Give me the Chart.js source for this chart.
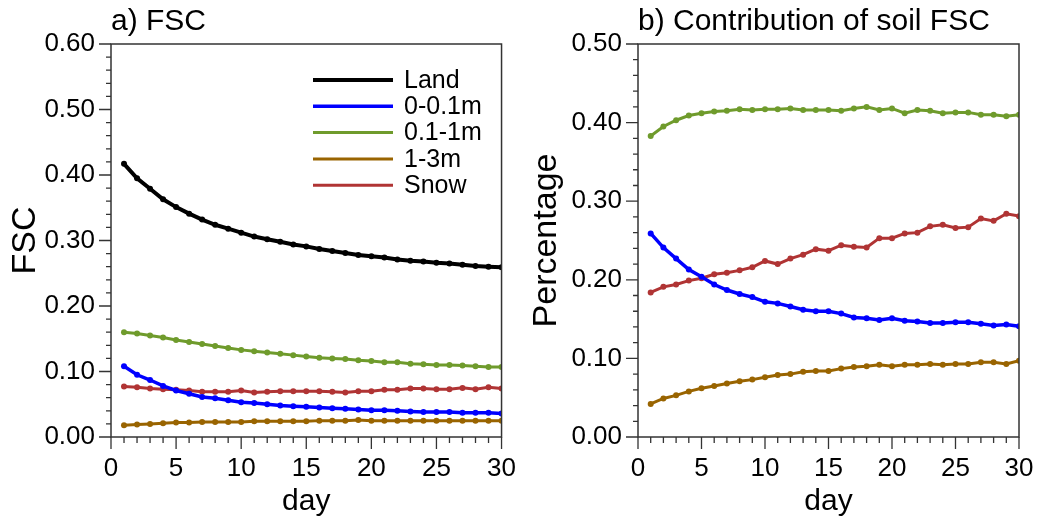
<!DOCTYPE html>
<html>
<head>
<meta charset="utf-8">
<script src="https://cdn.jsdelivr.net/npm/chart.js@4.4.0/dist/chart.umd.min.js"></script>
<style>
  html, body { margin: 0; padding: 0; background: #fff; }
  #wrap { position: relative; width: 1055px; height: 525px; }
  #panelA { position: absolute; left: 0; top: 0; }
  #panelB { position: absolute; left: 520px; top: 0; }
</style>
</head>
<body>
<div id="wrap">
  <canvas id="panelA" width="520" height="525"></canvas>
  <canvas id="panelB" width="535" height="525"></canvas>
</div>
<script>
// day axis
const days = [1,2,3,4,5,6,7,8,9,10,11,12,13,14,15,16,17,18,19,20,21,22,23,24,25,26,27,28,29,30];
const seriesNames = ['Land', '0-0.1m', '0.1-1m', '1-3m', 'Snow'];

// a) FSC
const landA  = [0.417,0.395,0.379,0.363,0.351,0.341,0.332,0.324,0.318,0.312,0.306,0.302,0.298,0.294,0.291,0.287,0.284,0.281,0.278,0.276,0.274,0.271,0.269,0.268,0.266,0.265,0.263,0.261,0.260,0.259];
const soil1A = [0.108,0.095,0.087,0.078,0.071,0.066,0.061,0.059,0.056,0.053,0.052,0.050,0.048,0.047,0.046,0.045,0.044,0.043,0.042,0.041,0.041,0.040,0.039,0.038,0.038,0.038,0.037,0.037,0.037,0.036];
const soil2A = [0.160,0.158,0.155,0.152,0.148,0.145,0.142,0.139,0.136,0.133,0.131,0.129,0.127,0.125,0.123,0.121,0.120,0.119,0.117,0.116,0.114,0.114,0.112,0.111,0.110,0.110,0.109,0.108,0.107,0.107];
const soil3A = [0.018,0.019,0.020,0.021,0.022,0.022,0.023,0.023,0.023,0.023,0.024,0.024,0.024,0.024,0.024,0.025,0.025,0.025,0.026,0.025,0.025,0.025,0.025,0.025,0.025,0.025,0.025,0.025,0.025,0.025];
const snowA  = [0.077,0.076,0.074,0.073,0.072,0.071,0.069,0.069,0.069,0.071,0.068,0.069,0.070,0.070,0.070,0.070,0.069,0.068,0.070,0.070,0.072,0.072,0.074,0.074,0.073,0.073,0.075,0.073,0.076,0.074];

// b) Contribution of soil FSC
const soil1B = [0.259,0.241,0.227,0.213,0.204,0.194,0.187,0.182,0.178,0.172,0.170,0.166,0.162,0.160,0.160,0.157,0.152,0.151,0.149,0.151,0.148,0.147,0.145,0.145,0.146,0.146,0.144,0.142,0.143,0.141];
const soil2B = [0.383,0.395,0.403,0.409,0.412,0.414,0.415,0.417,0.416,0.417,0.417,0.418,0.416,0.416,0.416,0.415,0.418,0.420,0.416,0.418,0.412,0.416,0.415,0.412,0.413,0.413,0.410,0.410,0.408,0.410];
const soil3B = [0.042,0.049,0.053,0.058,0.062,0.065,0.068,0.071,0.073,0.076,0.079,0.080,0.083,0.084,0.084,0.087,0.089,0.090,0.092,0.090,0.092,0.092,0.093,0.092,0.093,0.093,0.095,0.095,0.093,0.097];
const snowB  = [0.184,0.191,0.194,0.199,0.202,0.207,0.209,0.212,0.216,0.224,0.220,0.227,0.232,0.239,0.237,0.244,0.242,0.241,0.253,0.253,0.259,0.260,0.268,0.270,0.266,0.267,0.278,0.275,0.284,0.281];

// axis ranges / tick steps
const xMin = 0, xMax = 30, xMajor = 5, xMinor = 1;
const yMaxA = 0.6, yMaxB = 0.5, yMajor = 0.1, yMinor = 0.02;

const colors = {
  land: '#000000',
  soil1: '#0000ff',
  soil2: '#6f9b2c',
  soil3: '#996400',
  snow: '#b03434'
};

Chart.defaults.font.family = '"Liberation Sans", Arial, sans-serif';
Chart.defaults.color = '#000';

function series(label, values, color, width) {
  return {
    label: label,
    data: days.map((d, i) => ({ x: d, y: values[i] })),
    borderColor: color,
    backgroundColor: color,
    borderWidth: width,
    pointRadius: 3,
    pointBorderWidth: 0,
    pointBackgroundColor: color,
    tension: 0,
    fill: false
  };
}

// frame around plot + outward major/minor ticks
const frameTicks = {
  id: 'frameTicks',
  afterDraw(chart) {
    const { ctx, chartArea: a, scales: { x, y } } = chart;
    ctx.save();
    ctx.strokeStyle = '#333';
    ctx.lineWidth = 1.5;
    ctx.strokeRect(a.left, a.top, a.right - a.left, a.bottom - a.top);
    ctx.lineWidth = 1.3;
    ctx.beginPath();
    for (let v = xMin; v <= xMax + 1e-9; v += xMinor) {
      const px = x.getPixelForValue(v);
      const len = Math.abs(v % xMajor) < 1e-9 ? 12 : 6;
      ctx.moveTo(px, a.bottom);
      ctx.lineTo(px, a.bottom + len);
    }
    const n = Math.round(y.max / yMinor);
    for (let k = 0; k <= n; k++) {
      const py = y.getPixelForValue(k * yMinor);
      const len = k % Math.round(yMajor / yMinor) === 0 ? 12 : 5;
      ctx.moveTo(a.left, py);
      ctx.lineTo(a.left - len, py);
    }
    ctx.stroke();
    ctx.restore();
  }
};

// legend drawn inside panel a
const innerLegend = {
  id: 'innerLegend',
  afterDraw(chart) {
    const { ctx, chartArea: a } = chart;
    ctx.save();
    ctx.font = '25px "Liberation Sans", Arial, sans-serif';
    ctx.textBaseline = 'middle';
    ctx.fillStyle = '#000';
    chart.data.datasets.forEach((ds, i) => {
      const yy = a.top + 36 + i * 26.3;
      ctx.strokeStyle = ds.borderColor;
      ctx.lineWidth = ds.borderWidth;
      ctx.beginPath();
      ctx.moveTo(a.left + 202, yy);
      ctx.lineTo(a.left + 282, yy);
      ctx.stroke();
      ctx.fillText(ds.label, a.left + 293, yy + 1);
    });
    ctx.restore();
  }
};

function makeOptions(title, yTitle, yMax, leftWidth, rightPad, yTitlePad) {
  return {
    responsive: false,
    animation: false,
    layout: { padding: { left: 0, right: rightPad, top: 0, bottom: 0 } },
    plugins: {
      legend: { display: false },
      tooltip: { enabled: false },
      title: {
        display: true,
        text: title,
        align: 'start',
        fullSize: false,
        color: '#000',
        font: { size: 30, weight: 'normal' },
        padding: { top: 4, bottom: 4 }
      }
    },
    scales: {
      x: {
        type: 'linear',
        min: xMin,
        max: xMax,
        afterFit(scale) { scale.height = 88; },
        border: { display: false },
        grid: { drawOnChartArea: false, drawTicks: true, tickLength: 12, color: 'rgba(0,0,0,0)' },
        ticks: { stepSize: xMajor, padding: 4, font: { size: 26 }, color: '#000', maxRotation: 0 },
        title: { display: true, text: 'day', font: { size: 30 }, color: '#000', padding: { top: 0, bottom: 5 } }
      },
      y: {
        min: 0,
        max: yMax,
        afterFit(scale) { scale.width = leftWidth; },
        border: { display: false },
        grid: { drawOnChartArea: false, drawTicks: true, tickLength: 12, color: 'rgba(0,0,0,0)' },
        ticks: { stepSize: yMajor, padding: 4, font: { size: 26 }, color: '#000', callback: v => v.toFixed(2) },
        title: { display: true, text: yTitle, font: { size: 34 }, color: '#000', padding: { top: yTitlePad, bottom: 0 } }
      }
    }
  };
}

new Chart(document.getElementById('panelA'), {
  type: 'line',
  data: {
    datasets: [
      series(seriesNames[0], landA, colors.land, 4),
      series(seriesNames[1], soil1A, colors.soil1, 3.5),
      series(seriesNames[2], soil2A, colors.soil2, 3),
      series(seriesNames[3], soil3A, colors.soil3, 3),
      series(seriesNames[4], snowA, colors.snow, 3)
    ]
  },
  options: makeOptions('a) FSC', 'FSC', yMaxA, 111, 17, 5),
  plugins: [frameTicks, innerLegend]
});

new Chart(document.getElementById('panelB'), {
  type: 'line',
  data: {
    datasets: [
      series(seriesNames[1], soil1B, colors.soil1, 3.5),
      series(seriesNames[2], soil2B, colors.soil2, 3),
      series(seriesNames[3], soil3B, colors.soil3, 3),
      series(seriesNames[4], snowB, colors.snow, 3)
    ]
  },
  options: makeOptions('b) Contribution of soil FSC', 'Percentage', yMaxB, 118, 36, 6),
  plugins: [frameTicks]
});
</script>
</body>
</html>
